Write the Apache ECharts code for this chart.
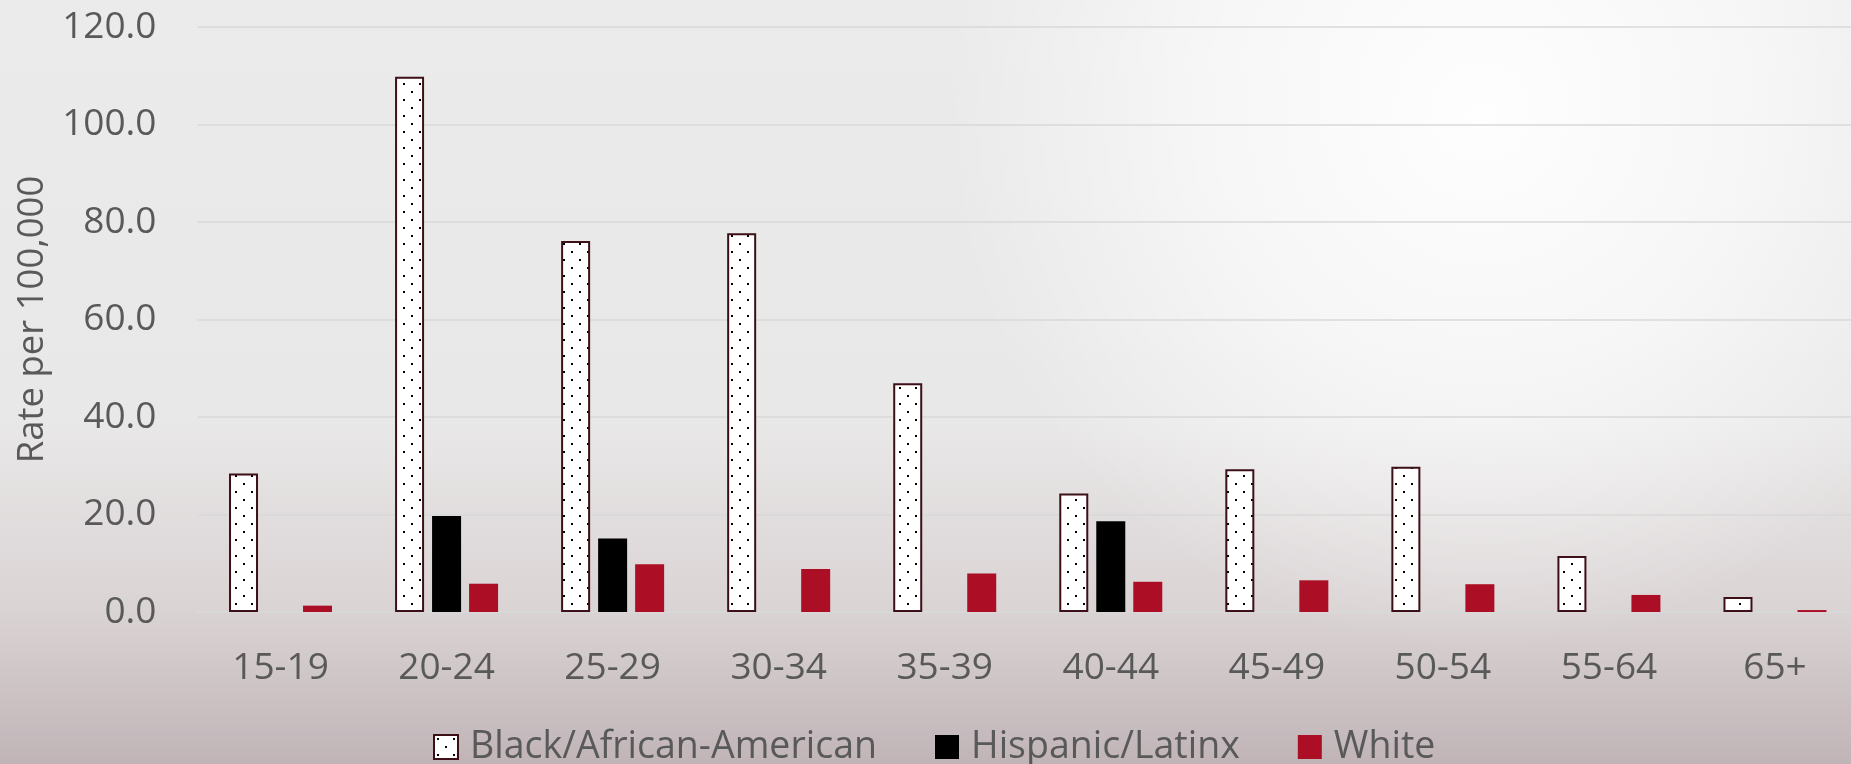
<!DOCTYPE html>
<html>
<head>
<meta charset="utf-8">
<script src="https://cdn.jsdelivr.net/npm/echarts@6/dist/echarts.min.js"></script>
<style>
  html, body { margin: 0; padding: 0; width: 1851px; height: 764px; overflow: hidden; }
  #chart { width: 1851px; height: 764px; }
</style>
</head>
<body>
<div id="chart"></div>
<script>
// Age groups along the x axis
const ageGroups = ['15-19', '20-24', '25-29', '30-34', '35-39', '40-44', '45-49', '50-54', '55-64', '65+'];

// Rates per 100,000 by race / ethnicity
const blackRates = [28.4, 109.8, 76.1, 77.7, 46.9, 24.3, 29.3, 29.8, 11.5, 3.1];
const hispanicRates = [null, 19.7, 15.1, null, null, 18.6, null, null, null, null];
const whiteRates = [1.3, 5.8, 9.8, 8.8, 7.9, 6.2, 6.5, 5.7, 3.5, 0.4];

// Value axis ticks
const yMin = 0;
const yMax = 120;
const yStep = 20;

const seriesNames = ['Black/African-American', 'Hispanic/Latinx', 'White'];

const FONT = '"Open Sans", Lato, sans-serif';
const TEXT = '#595959';

// White fill with a staggered grid of black dots
function dotPattern() {
  const c = document.createElement('canvas');
  c.width = 16; c.height = 16;
  const g = c.getContext('2d');
  g.fillStyle = '#ffffff';
  g.fillRect(0, 0, 16, 16);
  g.fillStyle = '#000000';
  g.fillRect(3, 3, 2, 2);
  g.fillRect(11, 11, 2, 2);
  return c;
}

const chart = echarts.init(document.getElementById('chart'), null, { renderer: 'canvas' });
const W = 1851, H = 764;

chart.setOption({
  animation: false,
  backgroundColor: 'transparent',
  graphic: {
    elements: [
      {
        type: 'rect', z: -20, silent: true,
        shape: { x: 0, y: 0, width: W, height: H },
        style: {
          fill: new echarts.graphic.LinearGradient(0, 0, 0, 1, [
            { offset: 0, color: '#ebebeb' },
            { offset: 0.55, color: '#e9e8e8' },
            { offset: 0.8, color: '#dad3d4' },
            { offset: 1, color: '#c0b4b7' }
          ])
        }
      },
      {
        type: 'rect', z: -19, silent: true,
        shape: { x: 0, y: 0, width: W, height: H },
        style: {
          fill: new echarts.graphic.RadialGradient(0.8, 0.15, 0.7, [
            { offset: 0, color: 'rgba(255,255,255,0.95)' },
            { offset: 0.5, color: 'rgba(255,255,255,0.6)' },
            { offset: 1, color: 'rgba(255,255,255,0)' }
          ])
        }
      }
    ]
  },
  textStyle: { fontFamily: FONT, color: TEXT },
  grid: { left: 197.5, right: -7, top: 27, bottom: 152, containLabel: false, outerBoundsMode: 'none' },
  legend: {
    data: seriesNames,
    left: 428,
    top: 723,
    itemWidth: 24,
    itemHeight: 24,
    itemGap: 58,
    icon: 'rect',
    textStyle: { fontFamily: FONT, fontSize: 37.5, color: TEXT, padding: [0, 0, 0, 7] }
  },
  xAxis: {
    type: 'category',
    data: ageGroups,
    axisLine: { show: true, lineStyle: { color: '#d9d9d9', width: 1.5 } },
    axisTick: { show: false },
    axisLabel: { fontFamily: FONT, fontSize: 37, color: TEXT, margin: 38 }
  },
  yAxis: {
    type: 'value',
    min: yMin,
    max: yMax,
    interval: yStep,
    name: 'Rate per 100,000',
    nameLocation: 'middle',
    nameGap: 144,
    nameTextStyle: { fontFamily: FONT, fontSize: 36.5, color: TEXT },
    axisLine: { show: false },
    axisTick: { show: false },
    splitLine: { lineStyle: { color: '#d9d9d9', width: 1.5 } },
    axisLabel: {
      fontFamily: FONT, fontSize: 37, color: TEXT, margin: 41,
      formatter: v => v.toFixed(1)
    }
  },
  series: [
    {
      name: seriesNames[0],
      type: 'bar',
      data: blackRates,
      barWidth: 29,
      barGap: '27.6%',
      itemStyle: {
        color: { image: dotPattern(), repeat: 'repeat' },
        borderColor: '#3d0f17',
        borderWidth: 2
      }
    },
    {
      name: seriesNames[1],
      type: 'bar',
      data: hispanicRates,
      barWidth: 29,
      barGap: '27.6%',
      itemStyle: { color: '#000000' }
    },
    {
      name: seriesNames[2],
      type: 'bar',
      data: whiteRates,
      barWidth: 29,
      barGap: '27.6%',
      itemStyle: { color: '#ac0f25' }
    }
  ]
});
</script>
</body>
</html>
